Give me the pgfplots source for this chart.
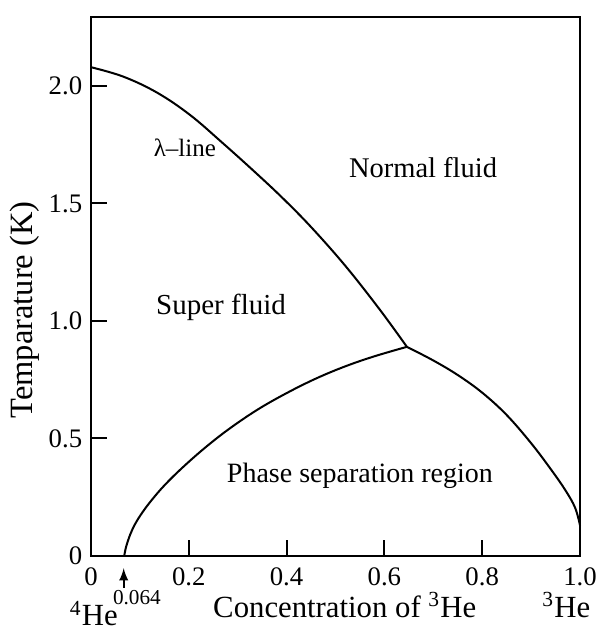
\documentclass[border=0pt]{standalone}
\usepackage{fontspec}
\setmainfont{Liberation Serif}
\usepackage{pgfplots}
\pgfplotsset{compat=1.18}
\begin{document}
\begin{tikzpicture}
\begin{axis}[
  scale only axis, width=195.6pt, height=215.6pt,
  xmin=0, xmax=1, ymin=0, ymax=2.294,
  axis line style={line width=0.9pt},
  xtick={0,0.2,0.4,0.6,0.8,1}, xticklabels={0,0.2,0.4,0.6,0.8,1.0},
  ytick={0,0.5,1,1.5,2}, yticklabels={0,0.5,1.0,1.5,2.0},
  tick align=inside, tick pos=left, major tick length=6.5pt,
  tick style={line width=0.8pt, black},
  tick label style={font=\fontsize{10.7}{12}\selectfont},
  xticklabel style={inner sep=1pt, yshift=-3.6pt},
  clip=false,
]
% lambda line
\addplot[black, line width=0.8pt, smooth, tension=0.6] coordinates {
 (0,2.080) (0.066,2.040) (0.135,1.972) (0.2025,1.877) (0.27,1.756)
 (0.332,1.640) (0.39,1.527) (0.45,1.400) (0.52,1.235) (0.59,1.050) (0.646,0.890)};
% phase separation, 4He-rich side
\addplot[black, line width=0.8pt, smooth, tension=0.6] coordinates {
 (0.068,0) (0.072,0.04) (0.08,0.09) (0.09,0.135) (0.105,0.185) (0.125,0.24)
 (0.15,0.300) (0.185,0.372) (0.23,0.455) (0.28,0.537) (0.34,0.622)
 (0.40,0.693) (0.46,0.755) (0.52,0.807) (0.58,0.850) (0.646,0.890)};
% phase separation, 3He-rich side
\addplot[black, line width=0.8pt, smooth, tension=0.6] coordinates {
 (0.646,0.890) (0.70,0.832) (0.75,0.77) (0.80,0.695) (0.85,0.60) (0.90,0.48)
 (0.94,0.37) (0.97,0.28) (0.99,0.205) (1.0,0.13)};
% labels
\node[font=\fontsize{10}{12}\selectfont] at (axis cs:0.192,1.736) {λ–line};
\node[font=\fontsize{11.4}{13}\selectfont] at (axis cs:0.679,1.651) {Normal fluid};
\node[font=\fontsize{11.6}{13}\selectfont] at (axis cs:0.266,1.06) {Super fluid};
\node[font=\fontsize{11.2}{13}\selectfont] at (axis cs:0.55,0.34) {Phase separation region};
\node[font=\fontsize{12.3}{14}\selectfont, inner sep=0.5pt] at (axis cs:0.519,-0.207) {Concentration of \textsuperscript{3}He};
\node[font=\fontsize{12.3}{14}\selectfont, inner sep=0.5pt] at (axis cs:0.972,-0.207) {\textsuperscript{3}He};
\node[font=\fontsize{12.3}{14}\selectfont, inner sep=0.5pt] at (axis cs:0.006,-0.245) {\textsuperscript{4}He};
\node[font=\fontsize{8.5}{10}\selectfont, inner sep=0.5pt] at (axis cs:0.094,-0.178) {0.064};
\draw[-latex, line width=0.7pt] (axis cs:0.067,-0.135) -- (axis cs:0.067,-0.052);
\node[font=\fontsize{13}{15}\selectfont, rotate=90] at (axis cs:-0.135,1.047) {Temparature (K)};
\path (axis cs:-0.186,-0.315) rectangle (axis cs:1.043,2.366);
\end{axis}
\end{tikzpicture}
\end{document}
